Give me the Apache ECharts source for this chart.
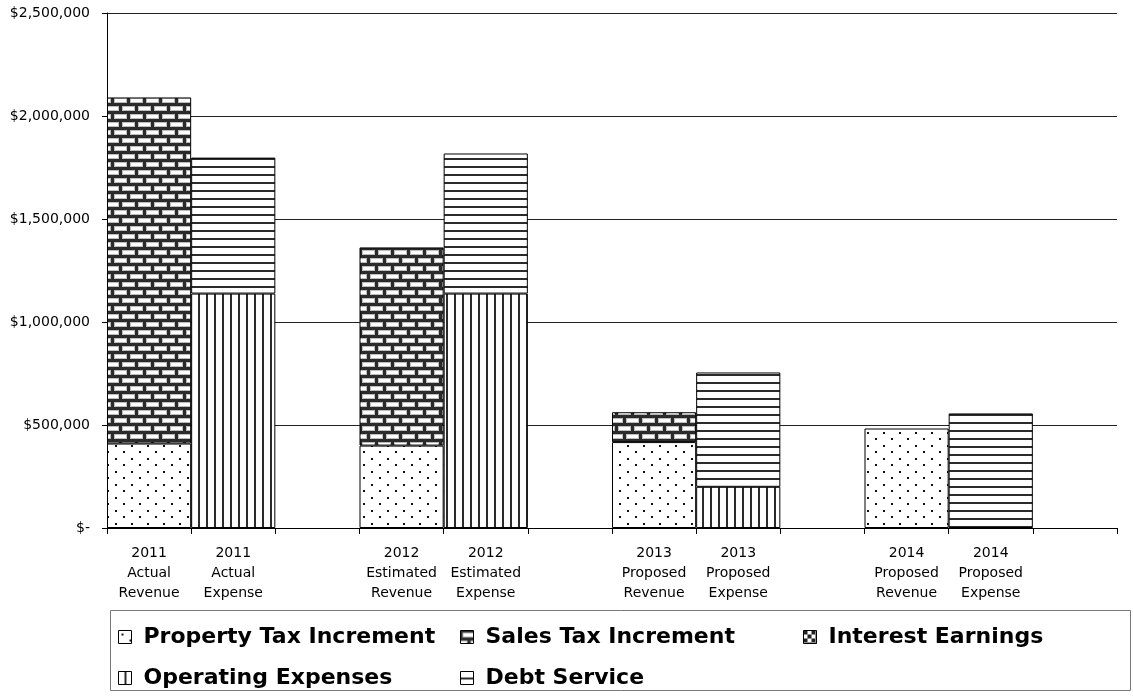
<!DOCTYPE html>
<html>
<head>
<meta charset="utf-8">
<script src="https://cdn.jsdelivr.net/npm/echarts@6/dist/echarts.min.js"></script>
<style>
html,body{margin:0;padding:0;background:#fff;}
#main{width:1133px;height:698px;}
</style>
</head>
<body>
<div id="main"></div>
<script>
// ---- data ----
var categories = [
  '2011\nActual\nRevenue', '2011\nActual\nExpense', '',
  '2012\nEstimated\nRevenue', '2012\nEstimated\nExpense', '',
  '2013\nProposed\nRevenue', '2013\nProposed\nExpense', '',
  '2014\nProposed\nRevenue', '2014\nProposed\nExpense', ''
];
var propertyTax = [410000, null, null, 400000, null, null, 417000, null, null, 483000, null, null];
var salesTax    = [1680000, null, null, 962000, null, null, 145000, null, null, null, null, null];
var interest    = [null, null, null, null, null, null, null, null, null, null, null, null];
var operating   = [null, 1138000, null, null, 1138000, null, null, 200000, null, null, null, null];
var debt        = [null, 660000, null, null, 680000, null, null, 555000, null, null, 556000, null];
var seriesNames = ['Property Tax Increment', 'Sales Tax Increment', 'Interest Earnings', 'Operating Expenses', 'Debt Service'];

// ---- patterns ----
function mk(w, h, draw) {
  var c = document.createElement('canvas');
  c.width = w; c.height = h;
  var g = c.getContext('2d');
  g.fillStyle = '#fff'; g.fillRect(0, 0, w, h);
  draw(g);
  return { image: c, repeat: 'repeat' };
}
var patDots = mk(16, 13, function (g) {
  g.fillStyle = '#111';
  g.fillRect(3, 3, 2, 2);
  g.fillRect(11, 9, 2, 2);
});
var patBrick = mk(16, 16, function (g) {
  g.fillStyle = '#2b2b2b'; g.fillRect(0, 0, 16, 16);
  g.fillStyle = '#bbb';
  g.fillRect(2, 2, 13, 5); g.fillRect(-6, 10, 13, 5); g.fillRect(10, 10, 13, 5);
  g.fillStyle = '#fff';
  g.fillRect(3, 3, 11, 3); g.fillRect(-5, 11, 11, 3); g.fillRect(11, 11, 11, 3);
});
var patChecker = mk(8, 8, function (g) {
  g.fillStyle = '#222'; g.fillRect(0, 0, 4, 4); g.fillRect(4, 4, 4, 4);
});
var patVert = mk(8, 4, function (g) {
  g.fillStyle = '#2b2b2b'; g.fillRect(6, 0, 2, 4);
});
var patHoriz = mk(4, 8, function (g) {
  g.fillStyle = '#2b2b2b'; g.fillRect(0, 6, 4, 2);
});
var patterns = [patDots, patBrick, patChecker, patVert, patHoriz];
var dataSets = [propertyTax, salesTax, interest, operating, debt];

var series = seriesNames.map(function (n, i) {
  return {
    name: n, type: 'bar', stack: 'total',
    barCategoryGap: '0%', barGap: '0%',
    data: dataSets[i],
    itemStyle: { color: patterns[i], borderColor: '#000', borderWidth: 1 },
    emphasis: { disabled: true }
  };
});

var FONT = 'DejaVu Sans, Liberation Sans, Arial';
var legendPos = [
  { left: 113, top: 621 }, { left: 455, top: 621 }, { left: 798, top: 621 },
  { left: 113, top: 662 }, { left: 455, top: 662 }
];
var legends = seriesNames.map(function (n, i) {
  return {
    data: [n], left: legendPos[i].left, top: legendPos[i].top,
    orient: 'horizontal', itemWidth: 13, itemHeight: 13, itemGap: 0,
    icon: 'rect', selectedMode: false,
    itemStyle: { borderColor: '#000', borderWidth: 1 },
    textStyle: { fontFamily: FONT, fontWeight: 'bold', fontSize: 22, color: '#000', padding: [0, 0, 0, 7] }
  };
});

var chart = echarts.init(document.getElementById('main'));
chart.setOption({
  animation: false,
  backgroundColor: '#fff',
  grid: { left: 107, right: 16, top: 13, bottom: 170 },
  legend: legends,
  graphic: [{
    type: 'rect', left: 110, top: 610, z: -1,
    shape: { width: 1020, height: 80 },
    style: { fill: '#fff', stroke: '#777', lineWidth: 1 }
  }],
  xAxis: {
    type: 'category', data: categories,
    axisLine: { lineStyle: { color: '#000', width: 1 } },
    axisTick: { show: true, interval: 0, length: 6, lineStyle: { color: '#000' } },
    axisLabel: { interval: 0, color: '#000', fontFamily: FONT, fontSize: 14, lineHeight: 20, margin: 15 }
  },
  yAxis: {
    type: 'value', min: 0, max: 2500000, interval: 500000,
    axisLine: { show: true, lineStyle: { color: '#000', width: 1 } },
    axisTick: { show: true, length: 5, lineStyle: { color: '#000' } },
    splitLine: { lineStyle: { color: '#222', width: 1 } },
    axisLabel: {
      color: '#000', fontFamily: FONT, fontSize: 14, margin: 17,
      formatter: function (v) {
        if (v === 0) return '$-';
        return '$' + v.toString().replace(/\B(?=(\d{3})+(?!\d))/g, ',');
      }
    }
  },
  series: series
});
</script>
</body>
</html>
